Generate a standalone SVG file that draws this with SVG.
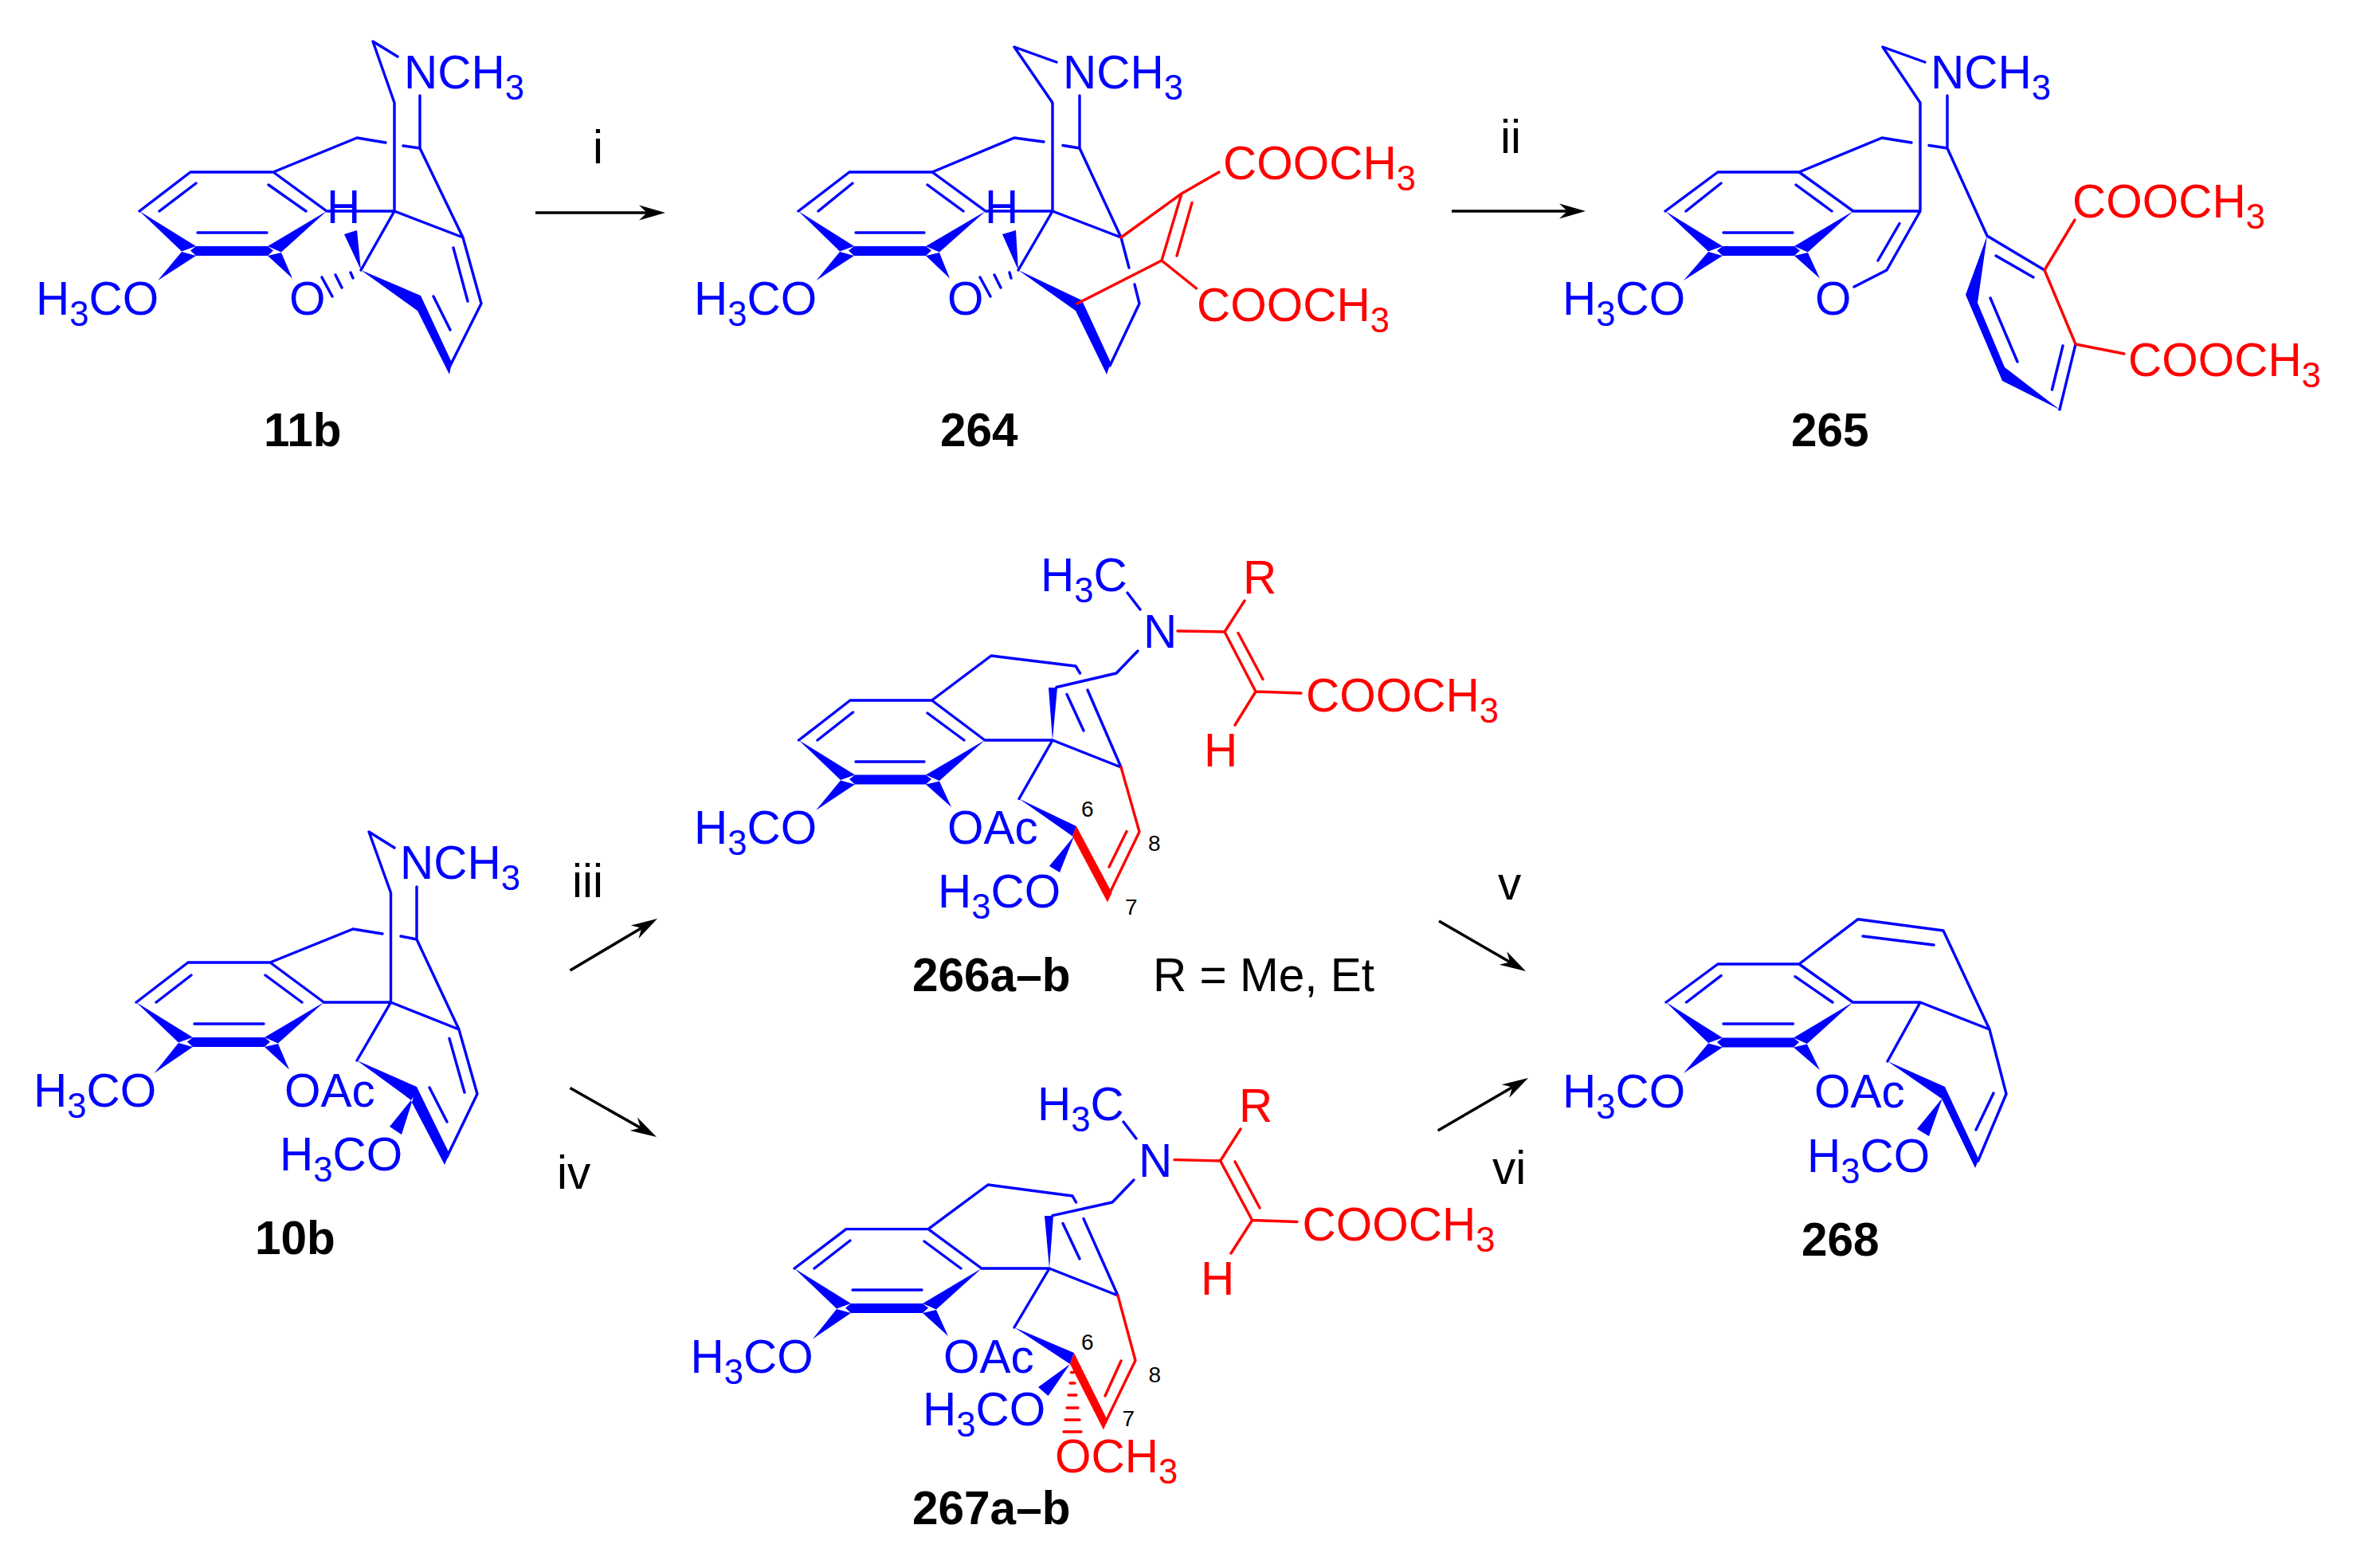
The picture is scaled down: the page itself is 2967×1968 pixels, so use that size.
<svg xmlns="http://www.w3.org/2000/svg" width="2967" height="1968" viewBox="0 0 2967 1968">
<style>
text{font-family:"Liberation Sans",Arial,sans-serif;font-size:58.5px}
.bl{fill:#00f}.rd{fill:#f00}.k{fill:#000}
.cap{font-weight:bold;fill:#000}
.n{font-size:28px;fill:#000}
.s{font-size:43.5px}
.b,.r{fill:none;stroke-width:3.4;stroke-linecap:round;stroke-linejoin:round}
.b{stroke:#00f}.r{stroke:#f00}
.f{fill:#00f}.fr{fill:#f00}
.a{stroke:#000;stroke-width:3.6;fill:none;marker-end:url(#head)}
</style>
<defs>
<marker id="head" markerUnits="userSpaceOnUse" markerWidth="40" markerHeight="24" refX="23" refY="12" orient="auto">
<path d="M0,2.5L33,12L0,21.5L10,12Z" fill="#000"/>
</marker>
</defs>
<rect width="2967" height="1968" fill="#fff"/>
<g id="connectors">
<path class="a" d="M672,267H825"/>
<path class="a" d="M1822,265H1980"/>
<path class="a" d="M715.5,1218L816.4,1158"/>
<path class="a" d="M715.5,1365.5L815.3,1422"/>
<path class="a" d="M1806,1156L1906.4,1214"/>
<path class="a" d="M1804.6,1419L1909.4,1358"/>
<text class="k" x="744" y="205">i</text>
<text class="k" x="1883" y="192">ii</text>
<text class="k" x="718" y="1126">iii</text>
<text class="k" x="699" y="1492">iv</text>
<text class="k" x="1880" y="1129">v</text>
<text class="k" x="1873" y="1486">vi</text>
</g>
<g id="n11b">
<path class="b" d="M175,265L239,216H343L410,265M200,265L246,230M337,232L384,265M248,292H335M343,216L448,173L484,179M506,183L527,186V120M495,265V129L468,52L499,71M410,265H495L581,298L527,186M581,298L604,381L565,459M569,311L587,378M495,265L453,339M440,342L443,349M421,345L429,361M404,348L417,372M544,372L565,414"/>
<path class="f" d="M175,265L246,309L228,315.500ZM410,265L336,309L353,316.500ZM198,352L228,316L246,321ZM367,349.500L336,321L353,317ZM246,309H336L343,314.500L336,321H246L239,314.500ZM453,339L432,294L448,289ZM453,339L528,371L524,390ZM528,371L567,455L564,470L524,390Z"/>
<text class="bl" x="45" y="395">H<tspan class="s" dy="14">3</tspan><tspan dy="-14">CO</tspan></text>
<text class="bl" x="507" y="111">NCH<tspan class="s" dy="14">3</tspan></text>
<text class="bl" x="410" y="280">H</text>
<text class="bl" x="363" y="395">O</text>
<text class="cap" x="331" y="560">11b</text>
</g>
<g id="n264">
<path class="b" d="M1002,265L1066,216H1170L1237,265M1027,265L1070,230M1164,232L1209,265M1074,292H1160M1170,216L1273,173L1310,178M1334,182.500L1355,186V120M1321,265V129L1273,59L1326,78M1237,265H1321L1407,298L1355,186M1407,298L1417,336M1424,357L1430,381L1393,459M1321,265L1278,339M1267,342L1269,349M1248,345L1256,361M1230,348L1243,372"/>
<path class="f" d="M1002,265L1072,309L1054,315.500ZM1237,265L1162,309L1179,316.500ZM1024.500,352L1054,316L1072,321ZM1192,349.500L1162,321L1179,317ZM1072,309H1162L1169,314.500L1162,321H1072L1065,314.500ZM1278,339L1258,294L1275,289ZM1278,339L1358,377L1350,390ZM1358,377L1394,455L1389,470L1350,390Z"/>
<path class="r" d="M1407,298L1483,243L1530,216M1483,243L1458,327L1501.500,362M1496,254.500L1477,321M1458,327L1352,381"/>
<text class="bl" x="871" y="395">H<tspan class="s" dy="14">3</tspan><tspan dy="-14">CO</tspan></text>
<text class="bl" x="1334" y="111">NCH<tspan class="s" dy="14">3</tspan></text>
<text class="bl" x="1236" y="280">H</text>
<text class="bl" x="1189" y="395">O</text>
<text class="rd" x="1535" y="225">COOCH<tspan class="s" dy="14">3</tspan></text>
<text class="rd" x="1502" y="403">COOCH<tspan class="s" dy="14">3</tspan></text>
<text class="cap" x="1180" y="560">264</text>
</g>
<g id="n265">
<path class="b" d="M2090,265L2156,216H2258L2326,265M2116,265L2160,230M2254,232L2299,265M2163,292H2250M2258,216L2362,173L2399,179M2421,182.500L2444,186V120M2410,265V129L2363,59L2416,78M2326,265H2410L2368,339L2327,360M2384,280.500L2357,327M2444,186L2494,296L2566,339M2605,432L2585,514M2505,321L2552,348M2498,374L2532,454M2589,434L2575.500,489"/>
<path class="f" d="M2090,265L2162,309L2144,315.500ZM2326,265L2252,309L2269,316.500ZM2113,352L2144,316L2162,321ZM2284,349.500L2252,321L2269,317ZM2162,309H2252L2259,314.500L2252,321H2162L2155,314.500ZM2494,296L2467,370L2482,380ZM2467,370L2482,380L2516,461L2513,478ZM2516,461L2513,478L2585,514Z"/>
<path class="r" d="M2604,276L2566,339L2605,432L2666,444"/>
<text class="bl" x="1961" y="395">H<tspan class="s" dy="14">3</tspan><tspan dy="-14">CO</tspan></text>
<text class="bl" x="2423" y="111">NCH<tspan class="s" dy="14">3</tspan></text>
<text class="bl" x="2278" y="395">O</text>
<text class="rd" x="2601" y="272.500">COOCH<tspan class="s" dy="14">3</tspan></text>
<text class="rd" x="2671" y="471.500">COOCH<tspan class="s" dy="14">3</tspan></text>
<text class="cap" x="2248" y="560">265</text>
</g>
<g id="n10b">
<path class="b" d="M171,1258L236,1208H339L406.500,1258M196,1258L240,1224M333,1224L379,1258M244,1285H331M339,1208L443,1166L480,1172M503,1175L523,1179V1113M490.500,1258V1120.500L463,1044L495,1064M406.500,1258H490.500L576,1292L523,1179M576,1292L599,1373L561,1452M564,1303.500L583,1371M490.500,1258L448,1331M539,1365L561,1408"/>
<path class="f" d="M171,1258L242,1302L224,1308.500ZM406.500,1258L332,1302L349,1309.500ZM193.500,1347L224,1309L242,1314ZM363,1342.500L332,1314L349,1310ZM242,1302H332L339,1307.500L332,1314H242L235,1307.500ZM448,1331L523,1364L515,1380ZM523,1364L564,1448L558,1462L515,1380ZM519,1377L489,1414L504,1424Z"/>
<text class="bl" x="42" y="1389">H<tspan class="s" dy="14">3</tspan><tspan dy="-14">CO</tspan></text>
<text class="bl" x="357" y="1389">OAc</text>
<text class="bl" x="351" y="1469">H<tspan class="s" dy="14">3</tspan><tspan dy="-14">CO</tspan></text>
<text class="bl" x="502" y="1103">NCH<tspan class="s" dy="14">3</tspan></text>
<text class="cap" x="320" y="1574">10b</text>
</g>
<g id="n266">
<path class="b" d="M1002.500,929L1067,879H1169.500L1236,929M1026,929L1070.500,894M1164,895L1210,929M1074,956H1160M1169.500,879L1244,823L1350,836L1355.500,845M1236,929H1321L1407,963L1365,866M1326,862.500L1401,845L1428,817M1339,871.500L1360,917M1415,744L1431,765M1321,929L1279,1002.500"/>
<path class="f" d="M1002.500,929L1073,972.500L1055,979ZM1236,929L1162,972.500L1179,980ZM1024,1017L1055,979.500L1073,984.500ZM1194,1013L1162,984.500L1179,980.500ZM1073,972.500H1162L1169,978L1162,984.500H1073L1066,978ZM1321,929L1316,863L1327,863ZM1279,1002.500L1351,1037L1346,1049.500ZM1348,1049.500L1317,1087L1330,1095Z"/>
<path class="fr" d="M1351,1037L1395.500,1120.600L1390,1132.500L1346,1049.500Z"/>
<path class="r" d="M1407,963L1430,1044L1392,1122.600M1414,1043.500L1392,1088M1478,792L1537,793L1562,754M1537,793L1576,868L1633,870M1554,794.500L1585,852.500M1576,868L1550,910"/>
<text class="bl" x="1306" y="742">H<tspan class="s" dy="14">3</tspan><tspan dy="-14">C</tspan></text>
<text class="rd" x="1560" y="745">R</text>
<text class="bl" x="1435" y="813">N</text>
<text class="rd" x="1639" y="893">COOCH<tspan class="s" dy="14">3</tspan></text>
<text class="rd" x="1511" y="962">H</text>
<text class="bl" x="871" y="1059">H<tspan class="s" dy="14">3</tspan><tspan dy="-14">CO</tspan></text>
<text class="bl" x="1189" y="1059">OAc</text>
<text class="bl" x="1177" y="1139">H<tspan class="s" dy="14">3</tspan><tspan dy="-14">CO</tspan></text>
<text class="n" x="1357" y="1025">6</text>
<text class="n" x="1441" y="1068">8</text>
<text class="n" x="1412" y="1147.500">7</text>
<text class="cap" x="1145" y="1244">266a–b</text>
<text class="k" x="1447" y="1244">R = Me, Et</text>
</g>
<g id="n267">
<path class="b" d="M997,1592L1062,1542.600H1165L1232,1592M1022,1592L1067,1557M1160,1558L1206,1592M1070,1619H1157M1165,1542.600L1240,1487L1346,1501L1350.500,1509M1232,1592H1317L1403,1626L1360,1529.600M1321,1525.600L1396,1509L1423,1481M1334,1535.500L1355,1580M1410,1408L1426,1429M1317,1592L1273,1666"/>
<path class="f" d="M997,1592L1068,1636L1050,1642.500ZM1232,1592L1158,1636L1175,1643.500ZM1020,1680.600L1050,1643L1068,1648ZM1190,1677L1158,1648L1175,1644ZM1068,1636H1158L1165,1641.500L1158,1648H1068L1061,1641.500ZM1317,1592L1311,1526L1322,1526ZM1273,1666L1348,1698L1343,1712ZM1343,1712L1303,1741L1315.500,1752Z"/>
<path class="fr" d="M1348,1698L1390,1782.600L1385,1794.500L1343,1712Z"/>
<path class="r" d="M1403,1626L1425,1707.500L1387,1786M1407,1708L1387,1752M1474,1455.600L1531.600,1457L1557,1417M1531.600,1457L1571.600,1531.500L1628,1533.500M1550,1458L1581,1516M1571.600,1531.500L1545,1573M1344.500,1722.500H1347.500M1343,1736H1349M1341,1751H1351M1339,1767H1353M1337,1782H1355M1335,1797H1357"/>
<text class="bl" x="1302" y="1406">H<tspan class="s" dy="14">3</tspan><tspan dy="-14">C</tspan></text>
<text class="rd" x="1555" y="1408">R</text>
<text class="bl" x="1429" y="1477">N</text>
<text class="rd" x="1634.500" y="1556.500">COOCH<tspan class="s" dy="14">3</tspan></text>
<text class="rd" x="1507" y="1624.500">H</text>
<text class="bl" x="866.500" y="1722.500">H<tspan class="s" dy="14">3</tspan><tspan dy="-14">CO</tspan></text>
<text class="bl" x="1184" y="1722.500">OAc</text>
<text class="bl" x="1158" y="1789">H<tspan class="s" dy="14">3</tspan><tspan dy="-14">CO</tspan></text>
<text class="rd" x="1324" y="1848">OCH<tspan class="s" dy="14">3</tspan></text>
<text class="n" x="1357" y="1693.700">6</text>
<text class="n" x="1441.500" y="1735">8</text>
<text class="n" x="1408.500" y="1790">7</text>
<text class="cap" x="1145" y="1913">267a–b</text>
</g>
<g id="n268">
<path class="b" d="M2091,1258L2156,1210H2258L2325.500,1258M2116.500,1258L2160,1224.600M2253,1225.700L2300,1258M2163,1285H2250.500M2258,1210L2332,1153.700L2439,1168L2497,1292L2410,1258H2325.500M2497,1292L2518,1373L2482.600,1457M2338,1175L2427,1186M2502,1372L2480,1418M2410,1258L2369,1332"/>
<path class="f" d="M2091,1258L2162,1302.500L2144,1309ZM2325.500,1258L2251,1302.500L2268,1310ZM2113,1347L2144,1309.500L2162,1314.500ZM2284,1343L2251,1314.500L2268,1310.500ZM2162,1302.500H2251L2258,1308L2251,1314.500H2162L2155,1308ZM2369,1332L2441,1364L2437,1379ZM2441,1364L2483.500,1455L2479,1466L2437,1379ZM2438,1378L2406,1417L2421,1426Z"/>
<text class="bl" x="1961" y="1390">H<tspan class="s" dy="14">3</tspan><tspan dy="-14">CO</tspan></text>
<text class="bl" x="2277" y="1390">OAc</text>
<text class="bl" x="2268" y="1471">H<tspan class="s" dy="14">3</tspan><tspan dy="-14">CO</tspan></text>
<text class="cap" x="2261" y="1576">268</text>
</g>
</svg>
